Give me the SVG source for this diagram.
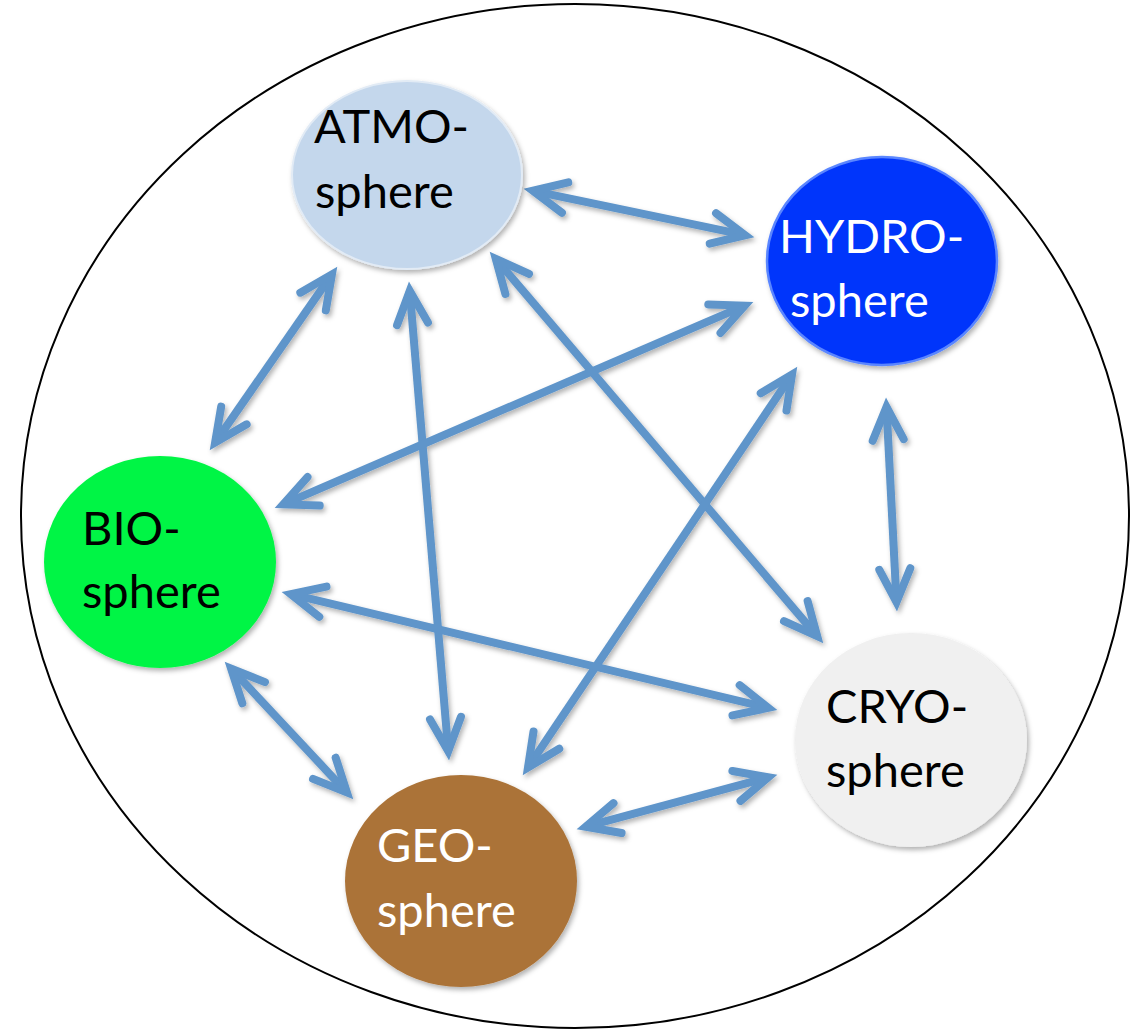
<svg xmlns="http://www.w3.org/2000/svg" width="1137" height="1032" viewBox="0 0 1137 1032">
<defs>
<filter id="sh" x="-20%" y="-20%" width="140%" height="140%">
<feDropShadow dx="2" dy="3" stdDeviation="2.5" flood-color="#000" flood-opacity="0.3"/>
</filter>
<marker id="ah" markerUnits="userSpaceOnUse" markerWidth="60" markerHeight="60" viewBox="-45 -30 60 60" refX="0" refY="0" orient="auto-start-reverse" overflow="visible">
<path d="M -33,-15.5 L 0,0 L -33,15.5" fill="none" stroke="#5f95ca" stroke-width="8" stroke-linecap="round" stroke-linejoin="miter" stroke-miterlimit="10"/>
</marker>
</defs>
<style>
.lbl{font-family:Lato,"Open Sans","Liberation Sans",sans-serif;font-size:47px}
.dark{fill:#000}
.light{fill:#fff}
.con line{stroke:#5f95ca;stroke-width:8;fill:none;marker-start:url(#ah);marker-end:url(#ah)}
</style>
<rect width="1137" height="1032" fill="#fff"/>
<ellipse id="outer" cx="575" cy="516" rx="554" ry="512" fill="none" stroke="#000" stroke-width="2"/>

<g id="connectors" class="con" filter="url(#sh)">
<line x1="532.8" y1="190.8" x2="745.2" y2="235.2"/>
<line x1="331.9" y1="274.4" x2="215.1" y2="442.6"/>
<line x1="409.75" y1="291" x2="448.25" y2="751"/>
<line x1="495.8" y1="258.8" x2="817.2" y2="636.2"/>
<line x1="744.7" y1="305.6" x2="283.3" y2="504.4"/>
<line x1="792" y1="374.5" x2="528" y2="767.5"/>
<line x1="886.5" y1="407" x2="896.5" y2="602"/>
<line x1="290.8" y1="594.1" x2="768.2" y2="707.9"/>
<line x1="231.1" y1="668.6" x2="346.9" y2="792.4"/>
<line x1="585.7" y1="826.7" x2="768.3" y2="777.3"/>
</g>

<g id="atmosphere">
<ellipse cx="407" cy="175" rx="115" ry="94" fill="#c4d7ec" stroke="#e2ebf5" stroke-width="2" filter="url(#sh)"/>
<text class="lbl dark" x="314" y="143">ATMO-</text>
<text class="lbl dark" x="315" y="208">sphere</text>
</g>
<g id="hydrosphere">
<ellipse cx="882" cy="261" rx="115" ry="104" fill="#0434fb" stroke="#5a86ff" stroke-width="2.5" filter="url(#sh)"/>
<text class="lbl light" x="779" y="253">HYDRO-</text>
<text class="lbl light" x="790" y="317">sphere</text>
</g>
<g id="biosphere">
<ellipse cx="160" cy="562" rx="116" ry="106" fill="#02f545" filter="url(#sh)"/>
<text class="lbl dark" x="82" y="545">BIO-</text>
<text class="lbl dark" x="82" y="608">sphere</text>
</g>
<g id="geosphere">
<ellipse cx="461" cy="881" rx="116" ry="106" fill="#ab7338" filter="url(#sh)"/>
<text class="lbl light" x="377" y="862">GEO-</text>
<text class="lbl light" x="377" y="927">sphere</text>
</g>
<g id="cryosphere">
<ellipse cx="911" cy="740" rx="116" ry="107" fill="#f0f0f0" filter="url(#sh)"/>
<text class="lbl dark" x="826" y="723">CRYO-</text>
<text class="lbl dark" x="826" y="787">sphere</text>
</g>
</svg>
